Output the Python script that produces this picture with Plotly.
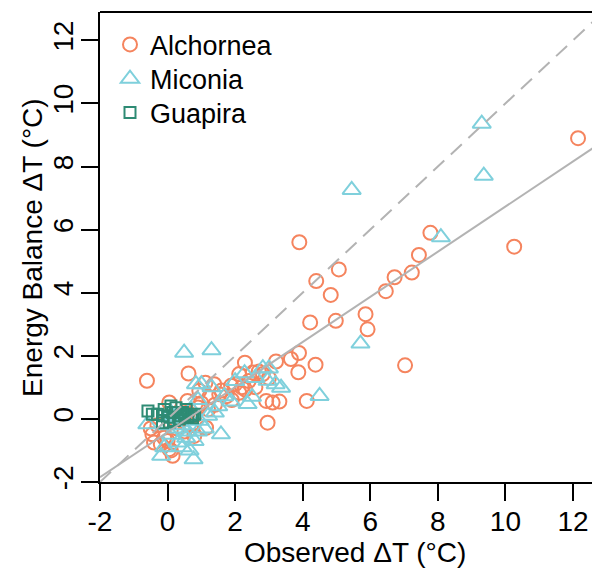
import plotly.graph_objects as go

# ---- data ----
alchornea_x = [12.15, 3.90, 7.78, 10.26, 7.44, 7.23, 6.72, 6.46, 5.07, 4.40, 4.83, 4.22, 4.98, 5.86, 5.92,
               7.03, 3.89, 3.65, 3.87, 4.38, 4.12, 3.31, 3.21,
               -0.61, 0.62, 2.29, 2.12, 2.52, 2.82, 1.38, 1.12, 1.88, 2.00, 2.92, 3.11, 2.96, 0.05, 0.59,
               0.94, 1.23, 1.53, 1.75, 2.12, 2.30, -0.45, -0.40, 0.05, 0.15, -0.20, 0.79, 1.14, 0.27, 0.44,
               0.90, 1.40,
               0.00, 0.10, -0.10, 0.30, 0.60, 1.00, 1.60, 2.60, 2.40, 1.90, 0.70, 0.20, -0.30, 1.20, 2.70,
               3.00, 2.20, 0.50, 0.80, -0.50]
alchornea_y = [8.90, 5.60, 5.90, 5.46, 5.20, 4.64, 4.49, 4.05, 4.74, 4.37, 3.93, 3.06, 3.11, 3.32, 2.84,
               1.70, 2.09, 1.90, 1.48, 1.72, 0.57, 0.55, 1.82,
               1.21, 1.44, 1.78, 1.42, 1.47, 1.42, 1.10, 1.15, 1.05, 1.10, 0.57, 0.52, -0.12, 0.52, 0.57,
               0.89, 0.68, 0.78, 0.72, 0.83, 0.93, -0.49, -0.75, -0.96, -1.17, -0.80, -0.54, -0.28, -0.30, 0.15,
               0.36, 0.45,
               -0.70, -1.00, -0.60, -0.10, 0.20, 0.50, 0.90, 1.00, 1.20, 0.60, -0.20, 0.00, -0.20, 0.30, 1.50,
               1.30, 1.00, -0.40, 0.10, -0.30]

miconia_x = [9.30, 9.36, 5.45, 8.09, 5.71, 4.50, 3.36, 0.49, 1.30, 2.82, 2.96, 2.28, 2.37, 1.58, 0.77,
             -0.19, -0.60, 0.84, 1.00, 1.30, 1.68, 1.88, 0.30, 0.55, 0.95, 1.20,
             0.10, 0.40, 0.70, 0.60, 0.20, 1.50, 0.80, 0.45, 0.00, -0.10, 1.10, 0.90, 2.60, 3.00, 2.00,
             0.65, 1.40, 0.30, 3.20, 2.50, 0.90, 0.10]
miconia_y = [9.36, 7.71, 7.26, 5.76, 2.39, 0.73, 0.99, 2.10, 2.18, 1.61, 1.21, 1.45, 0.47, -0.49, -1.28,
             -1.17, -0.17, 1.10, 1.10, 1.00, 0.72, 0.55, -0.30, -0.60, -0.06, 0.10,
             -0.50, -0.20, 0.30, -0.40, 0.10, 0.40, -0.70, -0.90, -0.20, -0.90, -0.30, 0.60, 1.30, 1.60, 1.20,
             -1.00, 0.20, -0.75, 1.10, 0.70, -0.40, 0.20]

guapira_x = [-0.58, -0.45, -0.30, -0.15, 0.00, 0.10, 0.15, 0.30, 0.40, 0.50, 0.60, 0.70, 0.80, 0.74,
             0.05, 0.20, 0.35, -0.10, 0.25, 0.55, 0.44, -0.15]
guapira_y = [0.25, 0.15, 0.15, 0.10, 0.05, 0.41, 0.20, 0.20, 0.10, 0.15, 0.05, 0.10, 0.15, 0.04,
             -0.10, -0.05, 0.00, 0.30, 0.35, 0.30, 0.20, -0.12]

fit_intercept = -0.42
fit_slope = 0.715

x_ticks = [-2, 0, 2, 4, 6, 8, 10, 12]
y_ticks = [-2, 0, 2, 4, 6, 8, 10, 12]
x_range = [-2, 12.80]
y_range = [-2, 12.90]
x_title = "Observed ΔT (°C)"
y_title = "Energy Balance ΔT (°C)"

col_alch = "#F5845E"
col_mic = "#7FD0DC"
col_gua = "#2E8B74"
line_col = "#B3B3B3"
FONT = "Liberation Sans, Arial, Helvetica, sans-serif"
FS_TICK = 28
FS_TITLE = 28
FS_LEG = 27

fig = go.Figure()
fig.add_trace(go.Scatter(x=alchornea_x, y=alchornea_y, mode="markers", name="Alchornea",
                         legend="legend",
                         marker=dict(symbol="circle-open", size=14, color=col_alch,
                                     line=dict(width=2, color=col_alch))))
fig.add_trace(go.Scatter(x=miconia_x, y=miconia_y, mode="markers", name="Miconia",
                         legend="legend2",
                         marker=dict(symbol="triangle-up-open", size=16, color=col_mic,
                                     line=dict(width=2, color=col_mic))))
fig.add_trace(go.Scatter(x=guapira_x, y=guapira_y, mode="markers", name="Guapira",
                         legend="legend3",
                         marker=dict(symbol="square-open", size=11, color=col_gua,
                                     line=dict(width=2, color=col_gua))))

# 1:1 line (dashed) and fitted line (solid)
fig.add_trace(go.Scatter(x=x_range, y=x_range, mode="lines", showlegend=False,
                         line=dict(color=line_col, width=2, dash="15px,9px"), hoverinfo="skip"))
fig.add_trace(go.Scatter(x=x_range, y=[fit_intercept + fit_slope * v for v in x_range], mode="lines",
                         showlegend=False, line=dict(color=line_col, width=2), hoverinfo="skip"))

axis_common = dict(showgrid=False, zeroline=False, showline=True, linecolor="black", linewidth=2,
                   ticks="outside", ticklen=17, tickwidth=2, tickcolor="black", automargin=False,
                   tickfont=dict(family=FONT, size=FS_TICK, color="black"))

leg_common = dict(xanchor="left", yanchor="middle", bgcolor="rgba(0,0,0,0)",
                  font=dict(family=FONT, size=FS_LEG, color="black"))

# the page body adds an 8px margin, so the figure is 8px smaller than the window
fig.update_layout(
    width=592, height=562,
    margin=dict(l=92, r=0, t=4, b=88),
    paper_bgcolor="white", plot_bgcolor="white",
    font=dict(family=FONT, color="black"),
    xaxis=dict(range=x_range, tickvals=x_ticks, ticktext=[str(v) for v in x_ticks],
               ticklabelstandoff=-4, **axis_common),
    yaxis=dict(range=y_range, tickvals=y_ticks, ticktext=[str(v) for v in y_ticks],
               tickangle=-90, ticklabelstandoff=-3, **axis_common),
    legend=dict(x=0.02, y=0.930, **leg_common),
    legend2=dict(x=0.02, y=0.857, **leg_common),
    legend3=dict(x=0.02, y=0.785, **leg_common),
    shapes=[dict(type="line", xref="paper", yref="paper", x0=0, x1=1, y0=1, y1=1,
                 line=dict(color="black", width=2))],
    annotations=[
        dict(text=x_title, xref="paper", yref="paper", x=0.51, y=-0.151, xanchor="center",
             yanchor="middle", showarrow=False, font=dict(family=FONT, size=FS_TITLE, color="black")),
        dict(text=y_title, xref="paper", yref="paper", x=-0.134, y=0.498, xanchor="center",
             yanchor="middle", textangle=-90, showarrow=False,
             font=dict(family=FONT, size=FS_TITLE, color="black")),
    ],
)

fig.write_html("out.html")
